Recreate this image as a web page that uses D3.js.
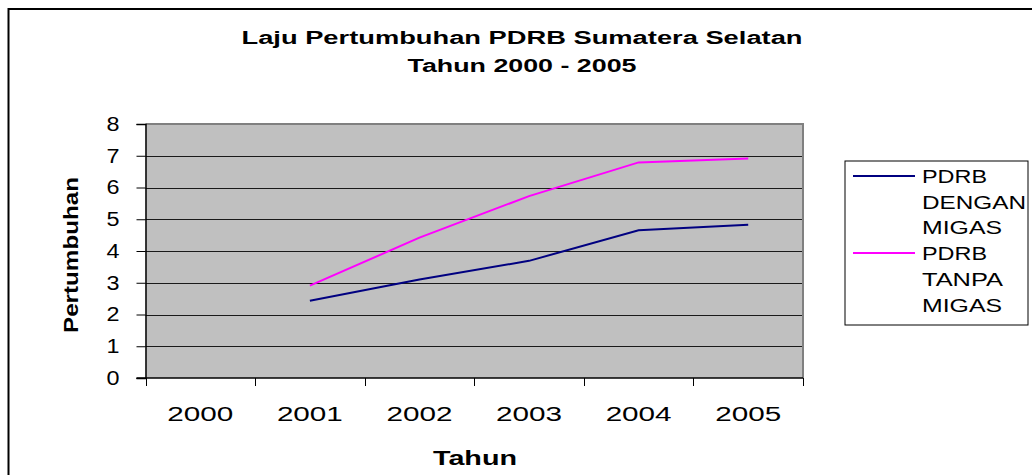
<!DOCTYPE html>
<html>
<head>
<meta charset="utf-8">
<script src="https://cdn.jsdelivr.net/npm/d3@7"></script>
<style>
  html, body { margin: 0; padding: 0; background: #fff; }
  svg { display: block; font-family: "Liberation Sans", Arial, sans-serif; }
</style>
</head>
<body>
<svg id="chart" width="1032" height="475"></svg>
<script>
// ---- data ----
const categories = ["2000", "2001", "2002", "2003", "2004", "2005"];
const denganMigas = [null, 2.43, 3.10, 3.69, 4.65, 4.83];
const tanpaMigas  = [null, 2.91, 4.42, 5.73, 6.79, 6.91];
const yTicks = [0, 1, 2, 3, 4, 5, 6, 7, 8];
const titleLines = ["Laju Pertumbuhan PDRB Sumatera Selatan", "Tahun 2000 - 2005"];
const seriesNames = [["PDRB", "DENGAN", "MIGAS"], ["PDRB", "TANPA", "MIGAS"]];
const seriesColors = ["#000080", "#ff00ff"];

const svg = d3.select("#chart");
const plot = { left: 145.5, right: 803, top: 124, bottom: 378 };

// outer border (extends beyond right/bottom edge)
svg.append("rect")
  .attr("x", 8.5).attr("y", 9).attr("width", 1100).attr("height", 600)
  .attr("fill", "none").attr("stroke", "#000").attr("stroke-width", 2);

const x = d3.scaleBand().domain(categories).range([plot.left, plot.right]);
const y = d3.scaleLinear().domain([0, 8]).range([plot.bottom, plot.top]);

// plot background
svg.append("rect")
  .attr("x", plot.left).attr("y", plot.top)
  .attr("width", plot.right - plot.left).attr("height", plot.bottom - plot.top)
  .attr("fill", "#c0c0c0");

// gridlines
svg.append("g").selectAll("line")
  .data(yTicks.filter(d => d > 0 && d < 8))
  .join("line")
  .attr("x1", plot.left).attr("x2", plot.right)
  .attr("y1", d => Math.round(y(d)) + 0.5).attr("y2", d => Math.round(y(d)) + 0.5)
  .attr("stroke", "#1a1a1a").attr("stroke-width", 1);

// plot border top & right (gray)
svg.append("path")
  .attr("d", `M${plot.left},${plot.top} H${plot.right} V${plot.bottom}`)
  .attr("fill", "none").attr("stroke", "#808080").attr("stroke-width", 2);

// y axis
const yAxis = d3.axisLeft(y).tickValues(yTicks).tickSize(9).tickPadding(17).tickFormat(d3.format("d"));
const gy = svg.append("g").attr("transform", `translate(${plot.left},0)`).call(yAxis);
gy.select(".domain").attr("stroke", "#000").attr("stroke-width", 1.5);
gy.selectAll(".tick line").attr("stroke", "#000").attr("stroke-width", 1);
gy.selectAll(".tick text")
  .attr("font-size", 20).attr("fill", "#000")
  .attr("font-family", "'Liberation Sans', Arial, sans-serif")
  .attr("textLength", 13).attr("lengthAdjust", "spacingAndGlyphs");

// x axis: labels centered in bands, ticks on band boundaries
const gx = svg.append("g").attr("transform", `translate(0,${plot.bottom})`);
gx.append("line")
  .attr("x1", plot.left - 9).attr("x2", plot.right)
  .attr("y1", 0).attr("y2", 0).attr("stroke", "#000").attr("stroke-width", 1.5);
const boundaries = categories.map(c => x(c)).concat([x(categories[categories.length - 1]) + x.bandwidth()]);
gx.selectAll("line.tk").data(boundaries).join("line").attr("class", "tk")
  .attr("x1", d => Math.round(d) + 0.5).attr("x2", d => Math.round(d) + 0.5)
  .attr("y1", 0).attr("y2", 8).attr("stroke", "#000").attr("stroke-width", 1);
gx.selectAll("text").data(categories).join("text")
  .attr("x", d => x(d) + x.bandwidth() / 2).attr("y", 43)
  .attr("text-anchor", "middle").attr("font-size", 20).attr("fill", "#000")
  .attr("textLength", 66).attr("lengthAdjust", "spacingAndGlyphs")
  .text(d => d);

// lines
const lineGen = d3.line()
  .defined(d => d.v != null)
  .x(d => x(d.c) + x.bandwidth() / 2)
  .y(d => y(d.v));
[denganMigas, tanpaMigas].forEach((vals, i) => {
  svg.append("path")
    .datum(categories.map((c, j) => ({ c, v: vals[j] })))
    .attr("d", lineGen)
    .attr("fill", "none").attr("stroke", seriesColors[i]).attr("stroke-width", 2);
});

// title
const titleLen = [561, 229];
svg.append("g").selectAll("text").data(titleLines).join("text")
  .attr("x", 522).attr("y", (d, i) => 44 + i * 28)
  .attr("text-anchor", "middle").attr("font-size", 18).attr("font-weight", "bold")
  .attr("textLength", (d, i) => titleLen[i]).attr("lengthAdjust", "spacingAndGlyphs")
  .text(d => d);

// axis titles
svg.append("text")
  .attr("transform", "translate(78,255) rotate(-90)")
  .attr("text-anchor", "middle").attr("font-size", 20).attr("font-weight", "bold")
  .attr("textLength", 156).attr("lengthAdjust", "spacingAndGlyphs")
  .text("Pertumbuhan");
svg.append("text")
  .attr("x", 475).attr("y", 465)
  .attr("text-anchor", "middle").attr("font-size", 20).attr("font-weight", "bold")
  .attr("textLength", 84).attr("lengthAdjust", "spacingAndGlyphs")
  .text("Tahun");

// legend
const lg = svg.append("g");
lg.append("rect").attr("x", 845).attr("y", 161).attr("width", 183).attr("height", 164)
  .attr("fill", "#fff").attr("stroke", "#000").attr("stroke-width", 1);
const legendWidths = { "PDRB": 65, "DENGAN": 104, "MIGAS": 80, "TANPA": 81 };
seriesNames.forEach((lines, i) => {
  const base = 183 + i * 3 * 25.7;
  lg.append("line").attr("x1", 853).attr("x2", 915)
    .attr("y1", base - 7).attr("y2", base - 7)
    .attr("stroke", seriesColors[i]).attr("stroke-width", 2);
  lines.forEach((t, k) => {
    lg.append("text").attr("x", 922).attr("y", base + k * 25.7)
      .attr("font-size", 19).attr("fill", "#000")
      .attr("textLength", legendWidths[t]).attr("lengthAdjust", "spacingAndGlyphs")
      .text(t);
  });
});
</script>
</body>
</html>
